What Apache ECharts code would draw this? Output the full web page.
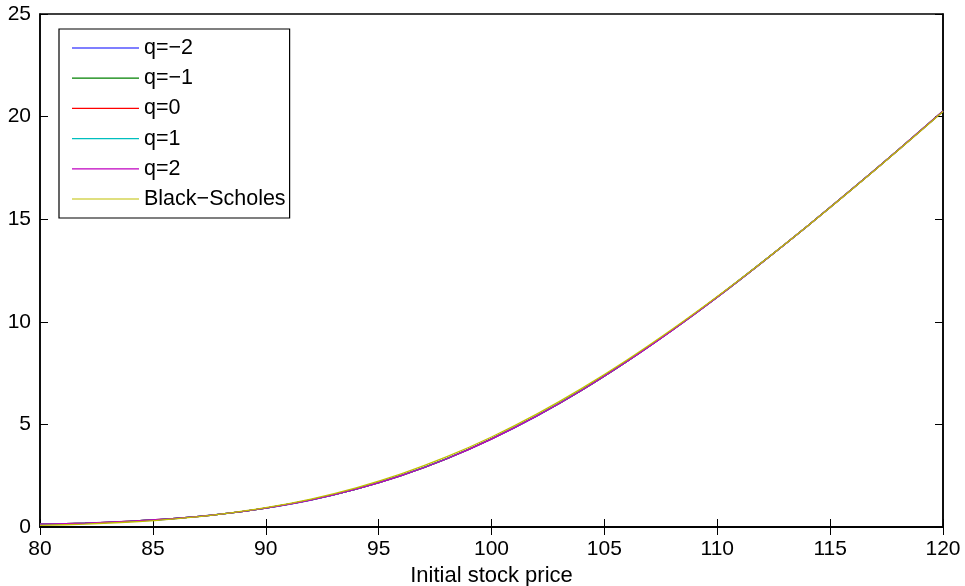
<!DOCTYPE html>
<html>
<head>
<meta charset="utf-8">
<script src="https://cdn.jsdelivr.net/npm/echarts@6/dist/echarts.min.js"></script>
<style>
  html, body { margin: 0; padding: 0; background: #fff; }
  #chart { width: 965px; height: 586px; }
</style>
</head>
<body>
<div id="chart"></div>
<script>
// Initial stock prices (x values)
const stockPrices = [80, 82, 84, 86, 88, 90, 92, 94, 96, 98, 100, 102, 104, 106, 108, 110, 112, 114, 116, 118, 120];

// Option prices for each model
const qMinus2 = [0.129, 0.182, 0.277, 0.415, 0.625, 0.925, 1.322, 1.850, 2.512, 3.326, 4.298, 5.414, 6.676, 8.075, 9.591, 11.206, 12.909, 14.670, 16.491, 18.357, 20.263];
const qMinus1 = [0.131, 0.184, 0.278, 0.416, 0.625, 0.924, 1.320, 1.848, 2.509, 3.323, 4.295, 5.411, 6.673, 8.073, 9.589, 11.204, 12.908, 14.670, 16.492, 18.359, 20.266];
const qZero   = [0.133, 0.186, 0.280, 0.417, 0.625, 0.923, 1.318, 1.845, 2.506, 3.320, 4.292, 5.408, 6.671, 8.070, 9.587, 11.203, 12.907, 14.670, 16.493, 18.361, 20.269];
const qPlus1  = [0.135, 0.188, 0.281, 0.418, 0.625, 0.922, 1.316, 1.843, 2.503, 3.317, 4.289, 5.405, 6.668, 8.068, 9.585, 11.201, 12.906, 14.670, 16.494, 18.363, 20.272];
const qPlus2  = [0.137, 0.190, 0.283, 0.419, 0.625, 0.921, 1.314, 1.841, 2.500, 3.314, 4.286, 5.402, 6.666, 8.066, 9.583, 11.200, 12.905, 14.670, 16.495, 18.365, 20.275];
const blackScholes = [0.077, 0.140, 0.243, 0.399, 0.625, 0.941, 1.364, 1.911, 2.590, 3.414, 4.386, 5.502, 6.756, 8.136, 9.633, 11.230, 12.915, 14.670, 16.485, 18.345, 20.245];

const seriesNames = ['q=\u22122', 'q=\u22121', 'q=0', 'q=1', 'q=2', 'Black\u2212Scholes'];
const seriesValues = [qMinus2, qMinus1, qZero, qPlus1, qPlus2, blackScholes];
const seriesColors = ['#0000ff', '#008000', '#ff0000', '#00bfbf', '#bf00bf', '#bfbf00'];

const xTicks = { min: 80, max: 120, interval: 5 };
const yTicks = { min: 0, max: 25, interval: 5 };

const FONT = 'Liberation Sans, Arial, Helvetica, sans-serif';

const chart = echarts.init(document.getElementById('chart'), null, { renderer: 'canvas' });

function pairs(values) {
  return stockPrices.map((x, i) => [x, values[i]]);
}

const tickStyle = { show: true, inside: true, length: 8, lineStyle: { color: '#000', width: 1 } };

chart.setOption({
  animation: false,
  backgroundColor: '#fff',
  grid: {
    left: 40, right: 22, top: 14, bottom: 59,
    containLabel: false,
    outerBoundsMode: 'none',
    show: true, borderColor: '#000', borderWidth: 1.5, backgroundColor: 'transparent'
  },
  legend: {
    orient: 'vertical',
    left: 59, top: 29,
    data: seriesNames,
    icon: 'rect',
    itemWidth: 67,
    itemHeight: 1.2,
    itemGap: 0.2,
    padding: [4, 4, 4, 13],
    backgroundColor: '#fff',
    borderColor: '#000',
    borderWidth: 1.2,
    textStyle: { fontFamily: FONT, fontSize: 21.5, color: '#000', lineHeight: 30 }
  },
  xAxis: [
    {
      type: 'value', min: xTicks.min, max: xTicks.max, interval: xTicks.interval,
      position: 'bottom',
      name: 'Initial stock price', nameLocation: 'middle', nameGap: 35,
      nameTextStyle: { fontFamily: FONT, fontSize: 22, color: '#000' },
      axisLine: { show: true, lineStyle: { color: '#000', width: 1.5 } },
      axisTick: tickStyle,
      axisLabel: { fontFamily: FONT, fontSize: 21, color: '#000', margin: 12 },
      splitLine: { show: false }
    },
    {
      type: 'value', min: xTicks.min, max: xTicks.max, interval: xTicks.interval,
      position: 'top',
      axisLine: { show: true, lineStyle: { color: '#000', width: 1.5 } },
      axisTick: tickStyle,
      axisLabel: { show: false },
      splitLine: { show: false }
    }
  ],
  yAxis: [
    {
      type: 'value', min: yTicks.min, max: yTicks.max, interval: yTicks.interval,
      position: 'left',
      axisLine: { show: true, lineStyle: { color: '#000', width: 1.5 } },
      axisTick: tickStyle,
      axisLabel: { fontFamily: FONT, fontSize: 21, color: '#000', margin: 9 },
      splitLine: { show: false }
    },
    {
      type: 'value', min: yTicks.min, max: yTicks.max, interval: yTicks.interval,
      position: 'right',
      axisLine: { show: true, lineStyle: { color: '#000', width: 1.5 } },
      axisTick: tickStyle,
      axisLabel: { show: false },
      splitLine: { show: false }
    }
  ],
  series: seriesNames.map((name, i) => ({
    name: name,
    type: 'line',
    xAxisIndex: 0,
    yAxisIndex: 0,
    data: pairs(seriesValues[i]),
    smooth: 0.3,
    symbol: 'none',
    color: seriesColors[i],
    lineStyle: { color: seriesColors[i], width: 1.3 },
    z: 2 + i
  }))
});
</script>
</body>
</html>
